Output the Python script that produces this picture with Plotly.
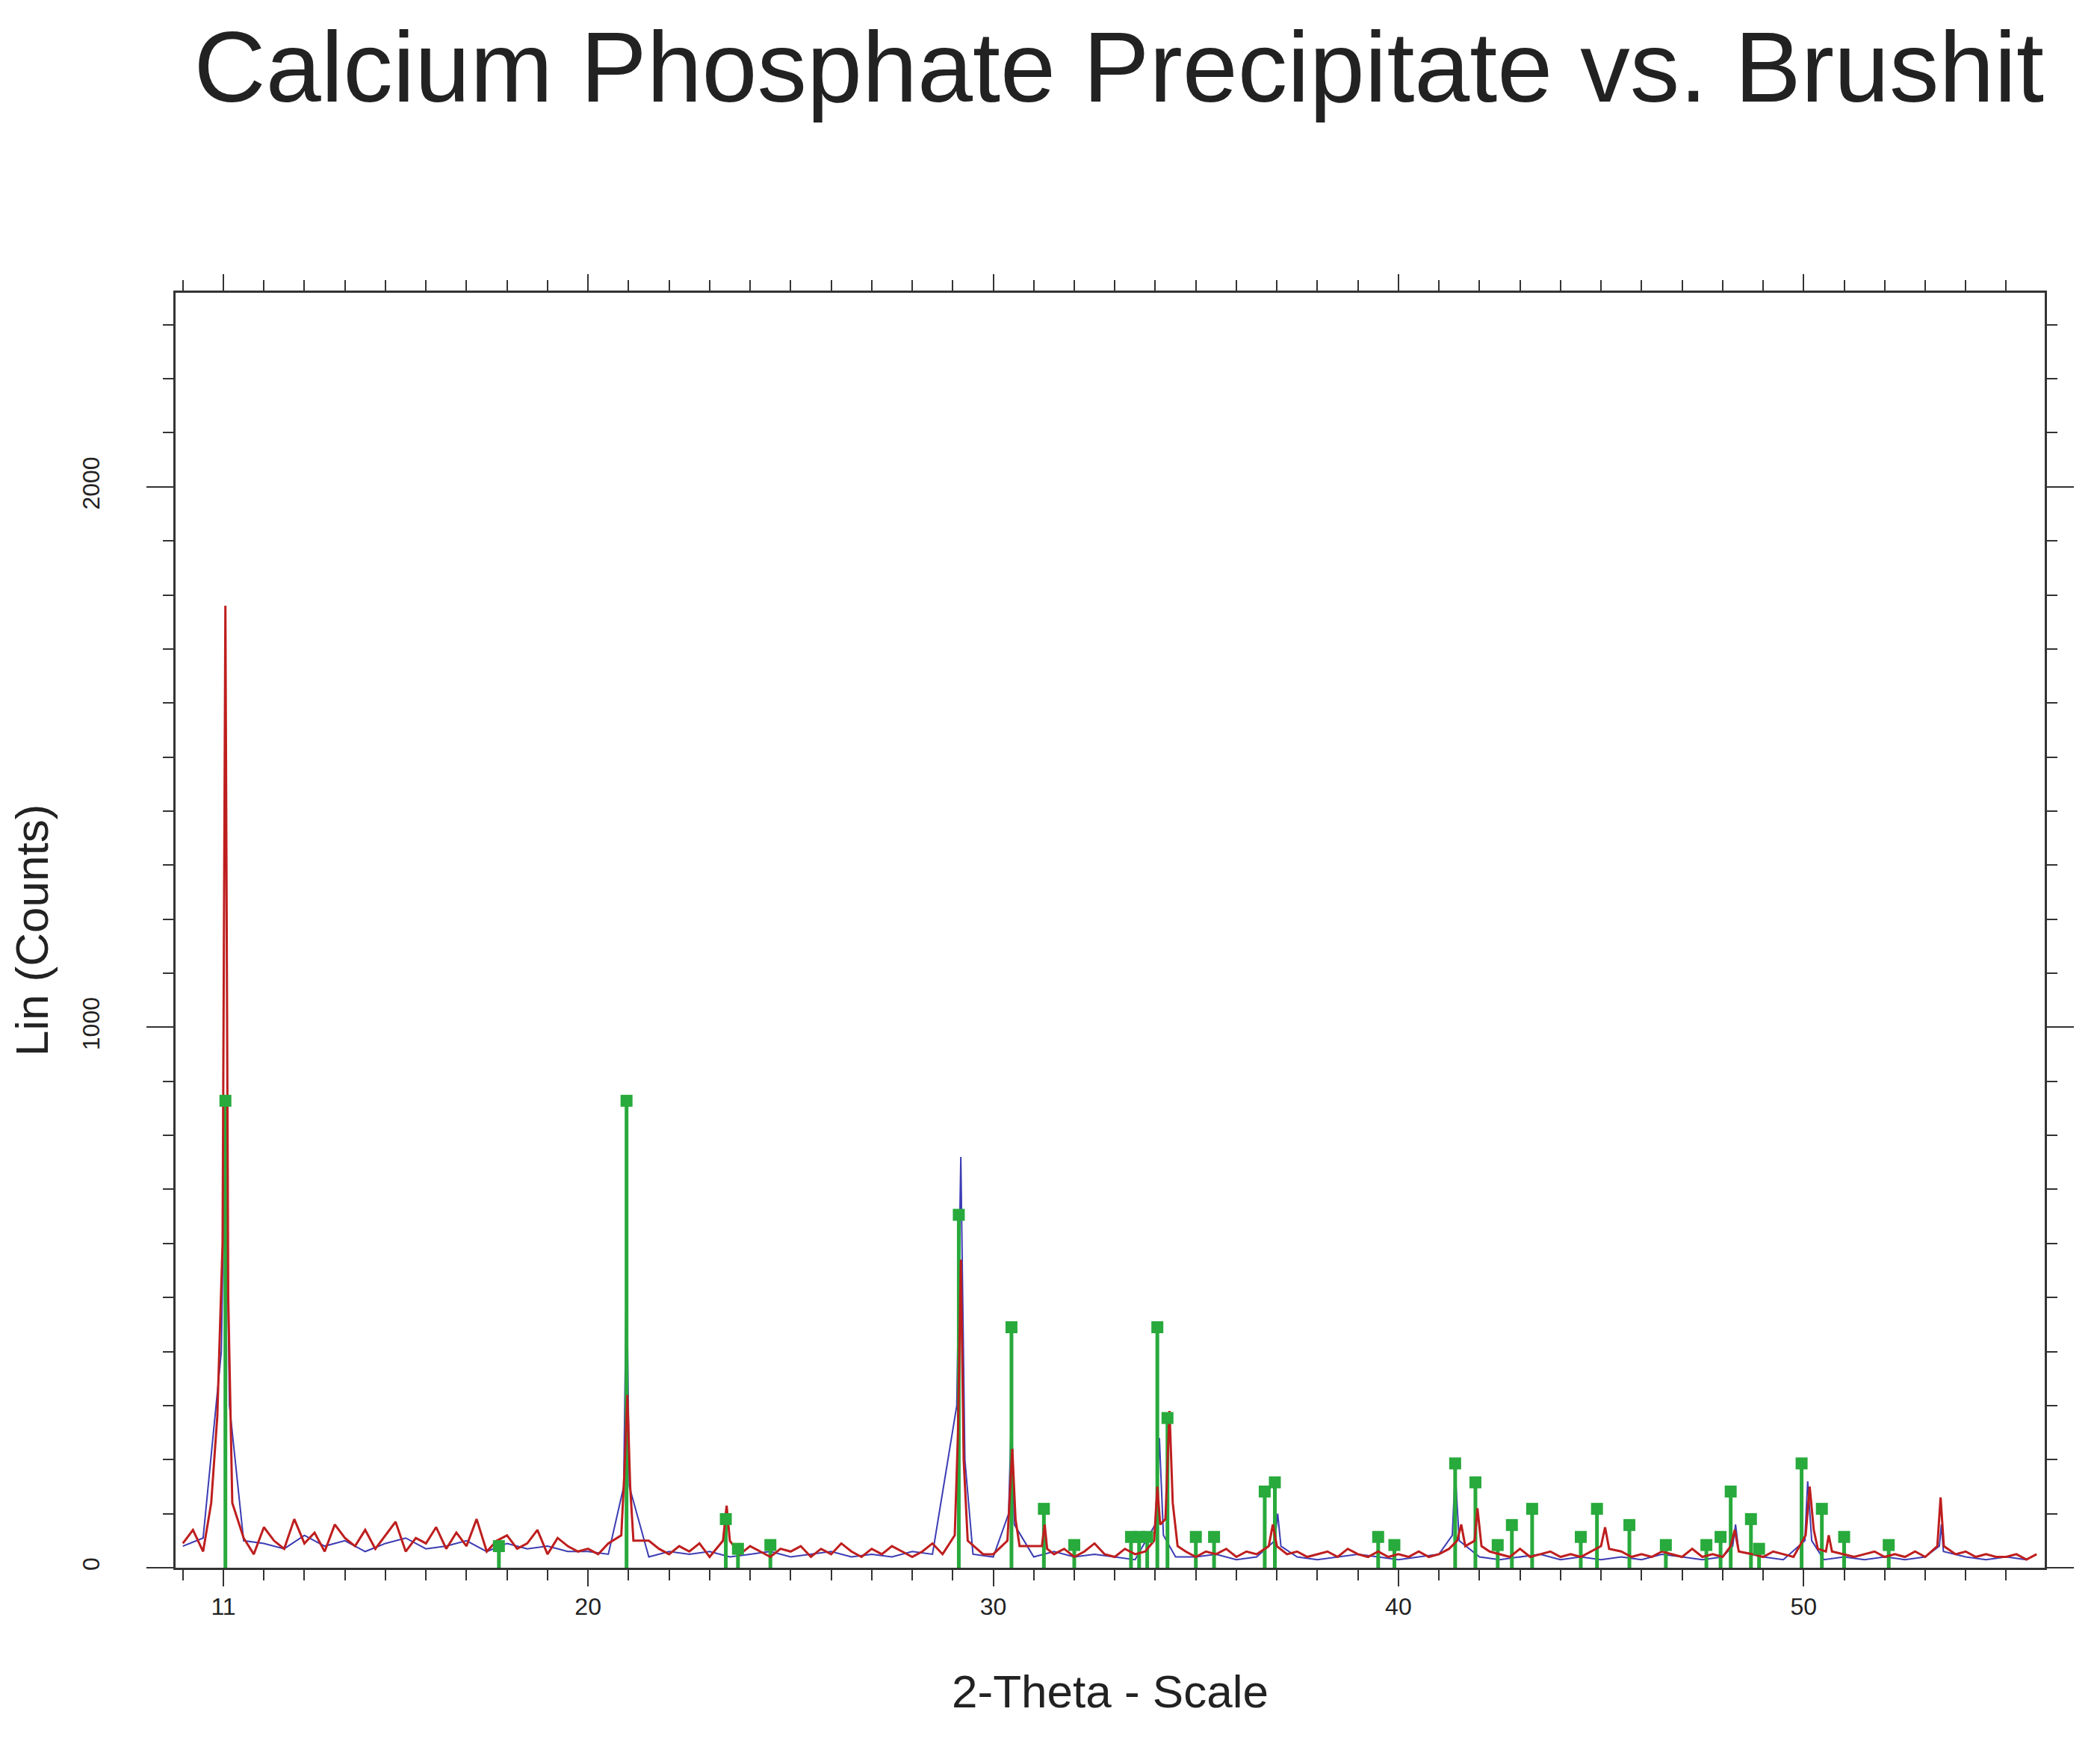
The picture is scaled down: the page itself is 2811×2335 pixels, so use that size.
import numpy as np
import plotly.graph_objects as go

# red scan: baseline every 0.25 deg from 10.0
red_base_x0, red_base_step = 10.0, 0.25
red_base = [45,70,30,60,85,40,55,25,75,50,35,90,45,65,30,80,55,40,70,35,
            60,85,30,55,45,75,35,65,40,90,30,50,60,35,45,70,25,55,40,30,
            35,25,45,30,40,20,50,35,25,40,30,45,20,35,50,25,40,30,20,35,
            30,40,20,35,25,45,30,20,35,25,40,30,20,30,45,25,35,20,30,25,
            25,35,20,30,40,20,25,35,20,30,45,25,20,35,25,30,20,40,25,30,
            20,30,25,35,20,30,25,20,35,25,30,20,25,30,20,35,25,20,30,20,
            25,20,30,20,25,35,20,25,20,30,25,20,35,20,25,30,20,25,20,30,
            20,25,30,20,25,20,30,25,20,35,20,25,20,30,20,25,20,30,25,20,
            25,20,30,20,25,20,25,30,20,25,20,30,20,25,20,25,30,20,25,20,
            20,25,15,25]
red_peak_x = [10.7,10.85,10.98,11.05,11.12,11.22, 20.82,20.9,20.97,21.04,21.12,
              23.33,23.42,23.5, 29.05,29.13,29.2,29.27,29.37, 30.35,30.42,30.47,30.55,30.65,
              31.2,31.27,31.33, 33.97,34.05,34.12, 34.25,34.35,34.43,34.55,
              36.8,36.9,37.0, 41.45,41.55,41.65, 41.88,41.95,42.05, 45.0,45.1,45.2,
              48.2,48.3,48.4, 50.05,50.15,50.25,50.35, 50.55,50.62,50.7, 53.3,53.38,53.46]
red_peak_y = [120,280,600,1780,500,120, 60,180,320,150,50,
              50,115,50, 60,250,570,200,50, 50,150,220,90,40,
              40,80,35, 50,150,80, 90,290,120,40,
              40,80,40, 50,80,40, 50,110,40, 40,75,35,
              40,70,30, 60,150,70,35, 30,60,30, 40,130,40]

# blue scan: baseline every 0.5 deg from 10.0
blue_base_x0, blue_base_step = 10.0, 0.5
blue_base = [40,55,30,50,45,35,60,40,50,30,45,55,35,40,50,30,45,35,40,30,
             30,25,35,20,30,25,30,20,25,30,20,25,30,20,25,20,30,25,20,25,
             20,25,20,30,20,25,20,15,25,20,20,25,15,20,25,20,15,20,25,20,
             15,20,25,15,20,15,20,25,15,20,15,20,15,25,20,15,20,15,20,15,
             20,15,20,15,20,15,20,15,20,15,20,15]
blue_peak_x = [10.95,11.05,11.15, 20.88,20.95,21.02, 29.1,29.2,29.3, 30.38,30.45,30.52,
               34.0,34.1,34.2, 36.95,37.02,37.1, 41.33,41.4,41.5, 48.25,48.32,48.4,
               50.03,50.1,50.2, 53.35,53.4,53.45]
blue_peak_y = [400,870,300, 150,550,150, 300,760,200, 100,290,80,
               80,240,60, 50,100,40, 60,180,50, 40,80,30,
               50,160,50, 40,80,30]

# Brushite reference lines
stick_x = [11.05,17.8,20.95,23.4,23.7,24.5,29.15,30.45,31.25,32.0,33.4,33.6,33.8,34.05,34.3,
           35.0,35.45,36.7,36.95,39.5,39.9,41.4,41.9,42.45,42.8,43.3,44.5,44.9,45.7,46.6,
           47.6,47.95,48.2,48.7,48.9,49.95,50.45,51.0,52.1]
stick_y = [864,40,864,90,35,42,653,445,109,42,57,57,57,445,277,
           57,57,141,158,57,42,193,158,42,79,109,57,109,79,42,
           42,57,141,90,35,193,109,57,42]


def merge(x0, step, base, px, py):
    bx = x0 + step * np.arange(len(base))
    keep = [i for i, v in enumerate(bx) if min(abs(v - p) for p in px) > 0.15]
    x = np.concatenate([bx[keep], px])
    y = np.concatenate([np.array(base)[keep], py])
    o = np.argsort(x)
    return x[o], y[o]


bx, by = merge(blue_base_x0, blue_base_step, blue_base, blue_peak_x, blue_peak_y)
rx, ry = merge(red_base_x0, red_base_step, red_base, red_peak_x, red_peak_y)

sx, sy = [], []
for x, y in zip(stick_x, stick_y):
    sx += [x, x, None]
    sy += [0, y, None]

fig = go.Figure()
fig.add_trace(go.Scatter(x=bx, y=by, mode='lines', line=dict(color='rgb(60,60,180)', width=2)))
fig.add_trace(go.Scatter(x=sx, y=sy, mode='lines', line=dict(color='rgb(40,170,60)', width=5)))
fig.add_trace(go.Scatter(x=rx, y=ry, mode='lines', line=dict(color='rgb(190,30,30)', width=3)))
fig.add_trace(go.Scatter(x=stick_x, y=stick_y, mode='markers',
                         marker=dict(color='rgb(40,170,60)', symbol='square', size=16)))

font = 'Liberation Sans, Arial, sans-serif'
fig.update_layout(
    width=2811, height=2335, showlegend=False,
    plot_bgcolor='white', paper_bgcolor='white',
    margin=dict(l=227, r=82, t=384, b=244),
    title=dict(text='Calcium Phosphate Precipitate vs. Brushit', x=0.53, xanchor='center',
               y=0.985, yanchor='top', font=dict(family=font, size=133, color='#222')),
    xaxis=dict(range=[9.82, 55.95], tickvals=[11, 20, 30, 40, 50], showgrid=False, zeroline=False,
               showline=True, linecolor='#333', linewidth=3, mirror='ticks',
               ticks='outside', ticklen=22, tickwidth=2, tickcolor='#333',
               minor=dict(tick0=10, dtick=1, ticks='outside', ticklen=14, tickwidth=2, tickcolor='#333'),
               tickfont=dict(family=font, size=32, color='#222'),
               title=dict(text='2-Theta - Scale', font=dict(family=font, size=62, color='#222'), standoff=75)),
    yaxis=dict(range=[0, 2359], tickvals=[0, 1000, 2000], showgrid=False, zeroline=False,
               showline=True, linecolor='#333', linewidth=3, mirror='ticks',
               ticks='outside', ticklen=36, tickwidth=2, tickcolor='#333', tickangle=-90,
               ticklabelstandoff=50,
               minor=dict(dtick=100, ticks='outside', ticklen=14, tickwidth=2, tickcolor='#333'),
               tickfont=dict(family=font, size=32, color='#222'),
               title=dict(text='Lin (Counts)', font=dict(family=font, size=62, color='#222'), standoff=20)),
)

fig.write_html('out.html')
